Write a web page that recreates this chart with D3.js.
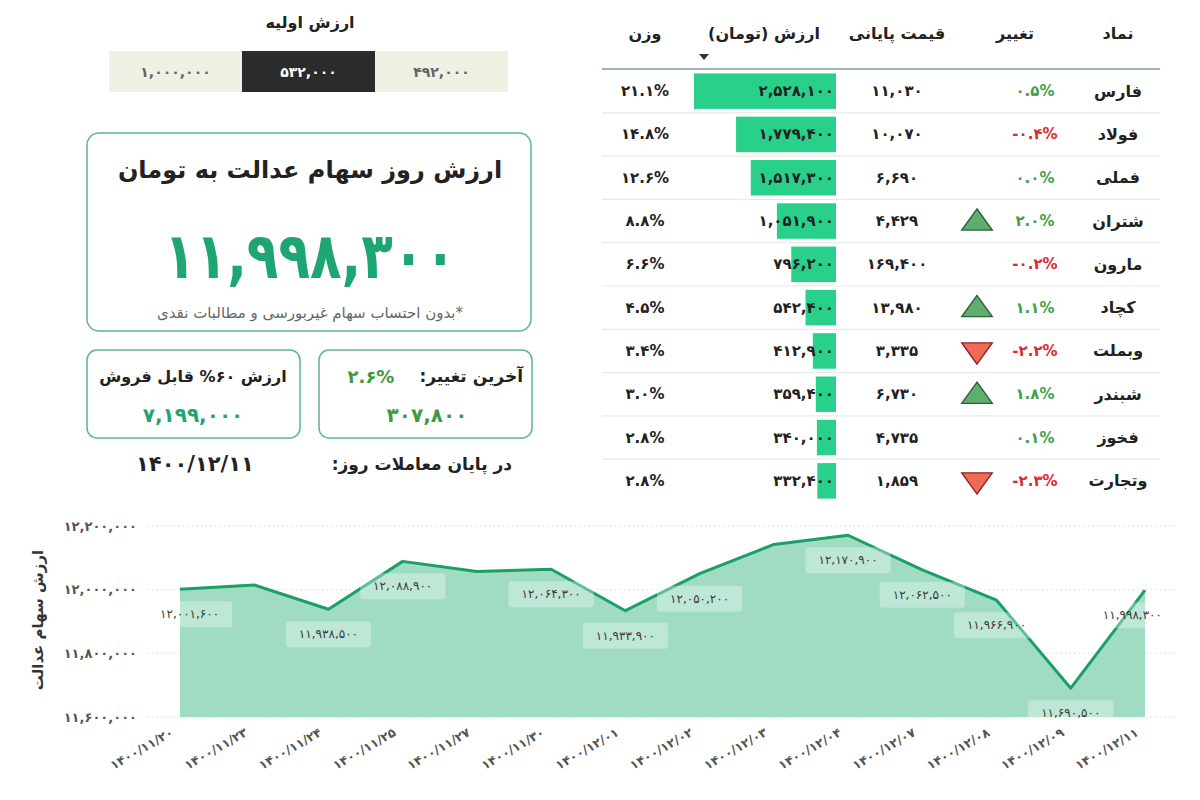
<!DOCTYPE html>
<html>
<head>
<meta charset="utf-8">
<script src="https://cdn.jsdelivr.net/npm/d3@7"></script>
<style>
  body { margin: 0; background: #fff; }
  svg text { font-family: "DejaVu Sans", sans-serif; }
</style>
</head>
<body>
<svg id="chart" width="1200" height="800"></svg>
<script>
// ---- data ----
const initialValues = [492000, 532000, 1000000];   // right to left
const selectedInitial = 532000;

const totalValue = 11998300;
const sellableValue = 7199000;
const lastChangePct = 2.6;
const lastChangeValue = 307800;
const lastDate = '1400/12/11';

const symbols = ['فارس', 'فولاد', 'فملی', 'شتران', 'مارون', 'کچاد', 'وبملت', 'شبندر', 'فخوز', 'وتجارت'];
const changes = [0.5, -0.4, 0.0, 2.0, -0.2, 1.1, -2.2, 1.8, 0.1, -2.3];
const closePrices = [11030, 10070, 6690, 4429, 169400, 13980, 3335, 6730, 4735, 1859];
const holdValues = [2528100, 1779400, 1517300, 1051900, 796200, 542400, 412900, 359400, 340000, 332400];
const weights = [21.1, 14.8, 12.6, 8.8, 6.6, 4.5, 3.4, 3.0, 2.8, 2.8];

const dates = ['1400/11/20', '1400/11/23', '1400/11/24', '1400/11/25', '1400/11/27', '1400/11/30',
  '1400/12/01', '1400/12/02', '1400/12/03', '1400/12/04', '1400/12/07', '1400/12/08', '1400/12/09', '1400/12/11'];
const dailyValues = [12001600, 12015000, 11938500, 12088900, 12057000, 12064300,
  11933900, 12050200, 12142000, 12170900, 12062500, 11966900, 11690500, 11998300];
const labelled = [true, false, true, true, false, true, true, true, false, true, true, true, true, true];
const yTicks = [11600000, 11800000, 12000000, 12200000];

// ---- helpers ----
const FA = '۰۱۲۳۴۵۶۷۸۹';
const fa = s => String(s).replace(/[0-9]/g, d => FA[+d]);
const num = v => fa(d3.format(',')(v));
const pct = v => fa(v.toFixed(1)) + '%';

const GREEN = '#1ea672';
const OLIVE = '#3f9a3f';
const RED = '#dc2a2f';
const CARD = '#5db78c';

const svg = d3.select('#chart');

function rtlText(g, x, y, txt, size, weight, color, anchor) {
  return g.append('text')
    .attr('x', x).attr('y', y)
    .attr('direction', 'rtl')
    .attr('text-anchor', anchor || 'middle')
    .attr('dominant-baseline', 'central')
    .attr('font-size', size)
    .attr('font-weight', weight)
    .attr('fill', color)
    .text(txt);
}

// ============ left panel ============
const left = svg.append('g');

rtlText(left, 310, 22, 'ارزش اولیه', 16, 'bold', '#222');

const btnX = d3.scaleBand().domain(initialValues).range([508, 109]);
const btns = left.selectAll('g.btn').data(initialValues).join('g').attr('class', 'btn');
btns.append('rect')
  .attr('x', d => btnX(d)).attr('y', 51)
  .attr('width', btnX.bandwidth()).attr('height', 41)
  .attr('fill', d => d === selectedInitial ? '#2b2b2b' : '#eef1e4');
btns.append('text')
  .attr('x', d => btnX(d) + btnX.bandwidth() / 2).attr('y', 72)
  .attr('text-anchor', 'middle').attr('dominant-baseline', 'central')
  .attr('font-size', 14).attr('font-weight', 'bold')
  .attr('fill', d => d === selectedInitial ? '#fff' : '#666')
  .text(d => num(d));

// big card
left.append('rect').attr('x', 87).attr('y', 133).attr('width', 444).attr('height', 198)
  .attr('rx', 12).attr('fill', '#fff').attr('stroke', CARD).attr('stroke-width', 1.5);
rtlText(left, 310, 170, 'ارزش روز سهام عدالت به تومان', 24, 'bold', '#222');
left.append('text').attr('x', 310).attr('y', 256)
  .attr('text-anchor', 'middle').attr('dominant-baseline', 'central')
  .attr('font-size', 64).attr('font-weight', 'bold').attr('fill', GREEN)
  .attr('textLength', 292).attr('lengthAdjust', 'spacingAndGlyphs')
  .text(num(totalValue));
rtlText(left, 310, 313, '*بدون احتساب سهام غیربورسی و مطالبات نقدی', 15, 'normal', '#666');

// small cards
left.append('rect').attr('x', 87).attr('y', 350).attr('width', 213).attr('height', 88)
  .attr('rx', 10).attr('fill', '#fff').attr('stroke', CARD).attr('stroke-width', 1.5);
rtlText(left, 193, 376, 'ارزش ۶۰% قابل فروش', 16, 'bold', '#222');
left.append('text').attr('x', 193).attr('y', 415)
  .attr('text-anchor', 'middle').attr('dominant-baseline', 'central')
  .attr('font-size', 20).attr('font-weight', 'bold').attr('fill', GREEN)
  .text(num(sellableValue));

left.append('rect').attr('x', 319).attr('y', 350).attr('width', 213).attr('height', 88)
  .attr('rx', 10).attr('fill', '#fff').attr('stroke', CARD).attr('stroke-width', 1.5);
rtlText(left, 523, 376, 'آخرین تغییر:', 17, 'bold', '#222', 'start');
left.append('text').attr('x', 371).attr('y', 376)
  .attr('text-anchor', 'middle').attr('dominant-baseline', 'central')
  .attr('font-size', 18).attr('font-weight', 'bold').attr('fill', OLIVE)
  .text(pct(lastChangePct));
left.append('text').attr('x', 427).attr('y', 415)
  .attr('text-anchor', 'middle').attr('dominant-baseline', 'central')
  .attr('font-size', 20).attr('font-weight', 'bold').attr('fill', OLIVE)
  .text(num(lastChangeValue));

left.append('text').attr('x', 195).attr('y', 464)
  .attr('text-anchor', 'middle').attr('dominant-baseline', 'central')
  .attr('font-size', 21).attr('font-weight', 'bold').attr('fill', '#222')
  .text(fa(lastDate));
rtlText(left, 512, 464, 'در پایان معاملات روز:', 17, 'bold', '#222', 'start');

// ============ table ============
const table = svg.append('g');
const col = { symbol: 1118, change: 1035, icon: 977, price: 897, value: 764, weight: 645 };
const headY = 33;

rtlText(table, col.symbol, headY, 'نماد', 16, 'bold', '#222');
rtlText(table, 1015, headY, 'تغییر', 16, 'bold', '#222');
rtlText(table, col.price, headY, 'قیمت پایانی', 16, 'bold', '#222');
rtlText(table, col.value, headY, 'ارزش (تومان)', 16, 'bold', '#222');
rtlText(table, col.weight, headY, 'وزن', 16, 'bold', '#222');
table.append('path').attr('d', 'M699,54 L709,54 L704,60 Z').attr('fill', '#333');

table.append('line').attr('x1', 602).attr('x2', 1160).attr('y1', 69).attr('y2', 69)
  .attr('stroke', '#7f9ea2').attr('stroke-width', 1.5);

const rowY = d3.scaleBand().domain(symbols).range([69.5, 69.5 + 43.3 * symbols.length])
  .paddingInner(0.18).paddingOuter(0.09);
const step = rowY.step();
const barW = d3.scaleLinear().domain([0, d3.max(holdValues)]).range([0, 142]);
const barRight = 836;

const rows = table.selectAll('g.row').data(symbols.map((s, i) => ({
  symbol: s, change: changes[i], price: closePrices[i], value: holdValues[i], weight: weights[i]
}))).join('g').attr('class', 'row');

rows.filter((d, i) => i < symbols.length - 1).append('line')
  .attr('x1', 602).attr('x2', 1160)
  .attr('y1', d => rowY(d.symbol) - rowY.paddingOuter() * step + step)
  .attr('y2', d => rowY(d.symbol) - rowY.paddingOuter() * step + step)
  .attr('stroke', '#e9e9e9').attr('stroke-width', 1.2);

rows.append('rect')
  .attr('x', d => barRight - barW(d.value)).attr('y', d => rowY(d.symbol))
  .attr('width', d => barW(d.value)).attr('height', rowY.bandwidth())
  .attr('fill', '#29d08a');

const cy = d => rowY(d.symbol) + rowY.bandwidth() / 2;

rows.append('text').attr('x', col.symbol).attr('y', cy)
  .attr('direction', 'rtl').attr('text-anchor', 'middle').attr('dominant-baseline', 'central')
  .attr('font-size', 16).attr('font-weight', 'bold').attr('fill', '#222').text(d => d.symbol);
rows.append('text').attr('x', col.change).attr('y', cy)
  .attr('text-anchor', 'middle').attr('dominant-baseline', 'central')
  .attr('font-size', 15).attr('font-weight', 'bold')
  .attr('fill', d => d.change >= 0 ? '#43a047' : RED).text(d => pct(d.change));
rows.append('text').attr('x', col.price).attr('y', cy)
  .attr('text-anchor', 'middle').attr('dominant-baseline', 'central')
  .attr('font-size', 15).attr('font-weight', 'bold').attr('fill', '#222').text(d => num(d.price));
rows.append('text').attr('x', barRight - 2).attr('y', cy)
  .attr('text-anchor', 'end').attr('dominant-baseline', 'central')
  .attr('font-size', 15).attr('font-weight', 'bold').attr('fill', '#222').text(d => num(d.value));
rows.append('text').attr('x', col.weight).attr('y', cy)
  .attr('text-anchor', 'middle').attr('dominant-baseline', 'central')
  .attr('font-size', 15).attr('font-weight', 'bold').attr('fill', '#222').text(d => pct(d.weight));

// arrows for big moves
const tri = d3.symbol().type(d3.symbolTriangle).size(260);
rows.filter(d => Math.abs(d.change) >= 1).append('path')
  .attr('d', tri)
  .attr('transform', d => `translate(${col.icon},${cy(d) + (d.change > 0 ? 2 : -1)}) scale(1.25,1) rotate(${d.change > 0 ? 0 : 180})`)
  .attr('fill', d => d.change > 0 ? '#5fae6e' : '#ef6b57')
  .attr('stroke', d => d.change > 0 ? '#2f5f3b' : '#8f2424')
  .attr('stroke-width', 1.2);

// ============ area chart ============
const chart = svg.append('g');
const x = d3.scalePoint().domain(dates).range([180, 1145]);
const y = d3.scaleLinear().domain([11600000, 12200000]).range([717, 526]);
const plotLeft = 147, plotRight = 1175;

chart.selectAll('line.grid').data(yTicks).join('line').attr('class', 'grid')
  .attr('x1', plotLeft).attr('x2', plotRight)
  .attr('y1', d => y(d)).attr('y2', d => y(d))
  .attr('stroke', '#d8d8d8').attr('stroke-dasharray', '1.5,3');

const yAxis = chart.append('g').attr('transform', `translate(${plotLeft - 10},0)`)
  .call(d3.axisLeft(y).tickValues(yTicks).tickSize(0).tickPadding(0).tickFormat(d => num(d)));
yAxis.select('.domain').remove();
yAxis.selectAll('text').attr('font-size', 13).attr('font-weight', 'bold').attr('fill', '#555')
  .attr('font-family', '"DejaVu Sans", sans-serif');

const series = dates.map((d, i) => ({ date: d, value: dailyValues[i], label: labelled[i] }));

chart.append('path').datum(series)
  .attr('fill', '#9fdcc2')
  .attr('d', d3.area().x(d => x(d.date)).y0(y(11600000)).y1(d => y(d.value)));
chart.append('path').datum(series)
  .attr('fill', 'none').attr('stroke', '#1b9e6b').attr('stroke-width', 3)
  .attr('stroke-linejoin', 'round')
  .attr('d', d3.line().x(d => x(d.date)).y(d => y(d.value)));

// value labels
const lab = chart.selectAll('g.vlabel').data(series.filter(d => d.label)).join('g').attr('class', 'vlabel');
lab.append('rect');
lab.append('text')
  .attr('text-anchor', 'middle').attr('dominant-baseline', 'central')
  .attr('font-size', 12).attr('fill', '#3a3a3a')
  .text(d => num(d.value));
lab.each(function (d) {
  const g = d3.select(this);
  const w = g.select('text').node().getComputedTextLength() + 26;
  const cx = Math.max(plotLeft + w / 2, Math.min(plotRight - w / 2, x(d.date)));
  const cyl = y(d.value) + 25;
  g.select('text').attr('x', cx).attr('y', cyl);
  g.select('rect').attr('x', cx - w / 2).attr('y', cyl - 13).attr('width', w).attr('height', 26)
    .attr('rx', 3).attr('fill', 'rgba(255,255,255,0.32)');
});

// x labels
chart.selectAll('text.xlab').data(dates).join('text').attr('class', 'xlab')
  .attr('transform', d => `translate(${x(d) - 8},${731}) rotate(-30)`)
  .attr('text-anchor', 'end').attr('dominant-baseline', 'central')
  .attr('font-size', 12.5).attr('font-weight', 'bold').attr('fill', '#555')
  .text(d => fa(d));

// y title
chart.append('text')
  .attr('transform', 'translate(38,620) rotate(-90)')
  .attr('direction', 'rtl').attr('text-anchor', 'middle').attr('dominant-baseline', 'central')
  .attr('font-size', 15).attr('font-weight', 'bold').attr('fill', '#333')
  .text('ارزش سهام عدالت');
</script>
</body>
</html>
